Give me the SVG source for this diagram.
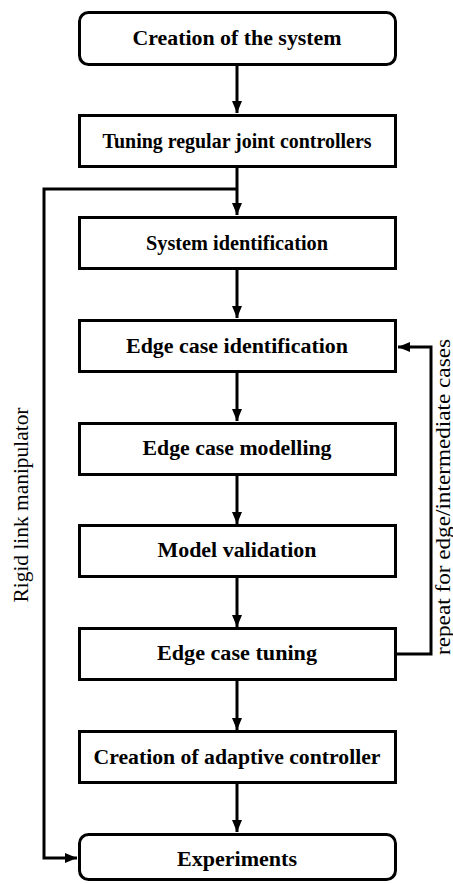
<svg xmlns="http://www.w3.org/2000/svg" width="453" height="884" viewBox="0 0 453 884">
  <style>
    .box { fill: #ffffff; stroke: #000000; stroke-width: 3; }
    .label { font-family: "Liberation Serif", "DejaVu Serif", serif; font-weight: bold; font-size: 20px; fill: #000000; text-anchor: middle; }
    .side { font-family: "Liberation Serif", "DejaVu Serif", serif; font-size: 20px; fill: #000000; text-anchor: middle; }
    .wire { fill: none; stroke: #000000; stroke-width: 3; }
  </style>
  <defs>
    <marker id="arrow" viewBox="0 0 12 10" refX="12" refY="5" markerWidth="12" markerHeight="10" markerUnits="userSpaceOnUse" orient="auto">
      <path d="M0,0 L12,5 L0,10 Z" fill="#000000"/>
    </marker>
  </defs>
  <rect width="453" height="884" fill="#ffffff"/>

  <!-- flow connectors -->
  <g id="connectors">
    <line class="wire" x1="237" y1="65" x2="237" y2="113" marker-end="url(#arrow)"/>
    <line class="wire" x1="237" y1="168" x2="237" y2="215" marker-end="url(#arrow)"/>
    <line class="wire" x1="237" y1="270" x2="237" y2="318" marker-end="url(#arrow)"/>
    <line class="wire" x1="237" y1="373" x2="237" y2="421" marker-end="url(#arrow)"/>
    <line class="wire" x1="237" y1="476" x2="237" y2="524" marker-end="url(#arrow)"/>
    <line class="wire" x1="237" y1="578" x2="237" y2="627" marker-end="url(#arrow)"/>
    <line class="wire" x1="237" y1="681" x2="237" y2="730" marker-end="url(#arrow)"/>
    <line class="wire" x1="237" y1="784" x2="237" y2="832" marker-end="url(#arrow)"/>
    <!-- bypass to experiments -->
    <polyline class="wire" points="237,189 44,189 44,858 77,858" marker-end="url(#arrow)"/>
    <!-- repeat loop -->
    <polyline class="wire" points="397,654 431,654 431,347 398,347" marker-end="url(#arrow)"/>
  </g>

  <g id="n1">
    <rect class="box" x="79.5" y="12.5" width="316" height="52" rx="9"/>
    <text class="label" x="237" y="45" textLength="209" lengthAdjust="spacingAndGlyphs">Creation of the system</text>
  </g>
  <g id="n2">
    <rect class="box" x="79.5" y="115.5" width="316" height="51"/>
    <text class="label" x="237" y="148" textLength="269" lengthAdjust="spacingAndGlyphs">Tuning regular joint controllers</text>
  </g>
  <g id="n3">
    <rect class="box" x="79.5" y="217.5" width="316" height="51"/>
    <text class="label" x="237" y="250" textLength="182" lengthAdjust="spacingAndGlyphs">System identification</text>
  </g>
  <g id="n4">
    <rect class="box" x="79.5" y="320.5" width="316" height="51"/>
    <text class="label" x="237" y="353" textLength="222" lengthAdjust="spacingAndGlyphs">Edge case identification</text>
  </g>
  <g id="n5">
    <rect class="box" x="79.5" y="423.5" width="316" height="51"/>
    <text class="label" x="237" y="455" textLength="189" lengthAdjust="spacingAndGlyphs">Edge case modelling</text>
  </g>
  <g id="n6">
    <rect class="box" x="79.5" y="525.5" width="316" height="51"/>
    <text class="label" x="237" y="557" textLength="159" lengthAdjust="spacingAndGlyphs">Model validation</text>
  </g>
  <g id="n7">
    <rect class="box" x="79.5" y="628.5" width="316" height="51"/>
    <text class="label" x="237" y="660" textLength="160" lengthAdjust="spacingAndGlyphs">Edge case tuning</text>
  </g>
  <g id="n8">
    <rect class="box" x="79.5" y="731.5" width="316" height="51"/>
    <text class="label" x="237" y="764" textLength="287" lengthAdjust="spacingAndGlyphs">Creation of adaptive controller</text>
  </g>
  <g id="n9">
    <rect class="box" x="79.5" y="834.5" width="316" height="45" rx="9"/>
    <text class="label" x="237" y="866" textLength="120" lengthAdjust="spacingAndGlyphs">Experiments</text>
  </g>

  <text class="side" transform="translate(28,505) rotate(-90)" textLength="195" lengthAdjust="spacingAndGlyphs">Rigid link manipulator</text>
  <text class="side" transform="translate(450,497) rotate(-90)" textLength="316" lengthAdjust="spacingAndGlyphs">repeat for edge/intermediate cases</text>
</svg>
